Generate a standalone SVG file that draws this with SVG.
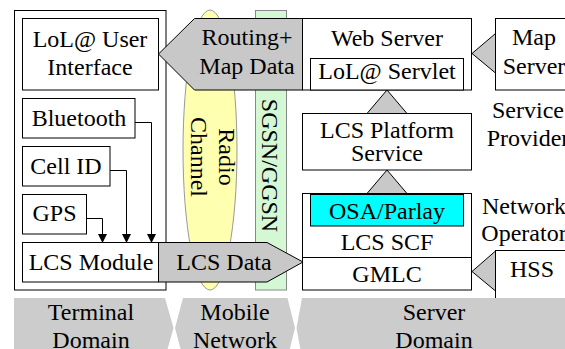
<svg xmlns="http://www.w3.org/2000/svg" width="565" height="349" viewBox="0 0 565 349" font-family="'Liberation Serif', 'Times New Roman', Times, serif" font-size="24">
<style>
text{font-family:'Liberation Serif','Times New Roman',Times,serif;font-size:24px;fill:#000;text-anchor:middle}
.box{fill:#fff;stroke:#000;stroke-width:1}
.gray{fill:#c8c8c8;stroke:#000;stroke-width:1}
.band{fill:#cccccc;stroke:none}
.wire{fill:none;stroke:#000;stroke-width:1}
</style>
<defs>
<marker id="ah" markerWidth="9" markerHeight="10" refX="8" refY="4.5" orient="auto" markerUnits="userSpaceOnUse">
<path d="M0,0 L9,4.5 L0,9 Z" fill="#000"/>
</marker>
</defs>
<rect width="565" height="349" fill="#fff"/>

<g id="terminal-domain-box"><rect class="box" x="14.5" y="10.5" width="151.5" height="279.5"/></g>
<g id="radio-channel"><ellipse cx="210" cy="150" rx="27" ry="140" fill="#ffffb0" stroke="#999" stroke-width="1"/>
<text transform="translate(219,157) rotate(90)">Radio</text>
<text transform="translate(191,157) rotate(90)">Channel</text></g>
<g id="sgsn-ggsn"><rect x="255.5" y="10.5" width="31" height="279.5" fill="#d4f8d4" stroke="#888" stroke-width="1"/>
<text transform="translate(262,165.5) rotate(90)">SGSN/GGSN</text></g>

<g id="lol-ui"><rect class="box" x="22.5" y="18.5" width="136" height="71.5"/>
<text x="90" y="46.5">LoL@ User</text><text x="90" y="75">Interface</text></g>
<g id="bluetooth"><rect class="box" x="22.5" y="98.5" width="112.5" height="39.5"/><text x="79" y="126">Bluetooth</text></g>
<g id="cell-id"><rect class="box" x="22.5" y="146.5" width="87.5" height="39.5"/><text x="66" y="173.5">Cell ID</text></g>
<g id="gps"><rect class="box" x="22.5" y="194.5" width="64" height="39.5"/><text x="54.5" y="221">GPS</text></g>
<g id="lcs-module"><rect class="box" x="22.5" y="242.5" width="136" height="39.5"/><text x="91" y="269.5">LCS Module</text></g>

<g id="routing-map-data"><polygon class="gray" points="158.5,54 194.5,18.5 302.5,18.5 302.5,90 194.5,90"/>
<text x="247" y="45">Routing+</text><text x="247" y="74">Map Data</text></g>
<g id="lcs-data"><polygon class="gray" points="158.5,242.5 267,242.5 303,262 267,282 158.5,282"/>
<text x="224" y="269.5">LCS Data</text></g>

<g id="web-server"><rect class="box" x="302.5" y="18.5" width="169" height="71.5"/>
<text x="387" y="46">Web Server</text></g>
<g id="lol-servlet"><rect class="box" x="310.5" y="58.5" width="153" height="31.5"/><text x="387" y="78.5">LoL@ Servlet</text></g>
<g id="map-server"><rect class="box" x="495.5" y="18.5" width="78" height="71.5"/>
<text x="534" y="45">Map</text><text x="534" y="73.5">Server</text></g>
<g id="lcs-platform"><rect class="box" x="302.5" y="113.5" width="169" height="56.5"/>
<text x="387" y="137.5">LCS Platform</text><text x="387" y="160.5">Service</text></g>
<g id="lcs-scf-gmlc"><rect class="box" x="302.5" y="193.5" width="169" height="96.5"/>
<line class="wire" x1="302.5" y1="257.5" x2="471.5" y2="257.5"/>
<rect x="310.5" y="194.5" width="153" height="31.5" fill="#00ffff" stroke="#000" stroke-width="1"/>
<text x="387" y="218.5">OSA/Parlay</text>
<text x="387" y="250">LCS SCF</text>
<text x="387" y="281.5">GMLC</text></g>
<g id="hss"><rect class="box" x="495.5" y="250.5" width="78" height="50"/><text x="532" y="277">HSS</text></g>
<g id="service-provider-label"><text x="528" y="118">Service</text><text x="528" y="146">Provider</text></g>
<g id="network-operator-label"><text x="524" y="214">Network</text><text x="524" y="241">Operator</text></g>

<g id="connectors">
<polyline class="wire" points="135,122.5 151.5,122.5 151.5,242" marker-end="url(#ah)"/>
<polyline class="wire" points="110,170.5 126.5,170.5 126.5,242" marker-end="url(#ah)"/>
<polyline class="wire" points="86.5,218.5 102.5,218.5 102.5,242" marker-end="url(#ah)"/>
<polygon class="gray" points="495.5,33.5 495.5,73 472,53.5"/>
<polygon class="gray" points="367,113.5 407,113.5 387,90"/>
<polygon class="gray" points="367,193.5 407,193.5 387,170"/>
<polygon class="gray" points="495.5,251 495.5,291 472,271.5"/>
</g>

<g id="domain-bands">
<polygon class="band" points="14,298 165,298 173.5,328 165,358 14,358"/>
<polygon class="band" points="183,298 287.5,298 295,328 287.5,358 183,358 175,328"/>
<polygon class="band" points="302,298 575,298 575,358 302,358 296.5,328"/>
<text x="91" y="320">Terminal</text><text x="91" y="348">Domain</text>
<text x="235" y="320">Mobile</text><text x="235" y="348">Network</text>
<text x="434" y="320">Server</text><text x="434" y="348">Domain</text>
</g>
</svg>
